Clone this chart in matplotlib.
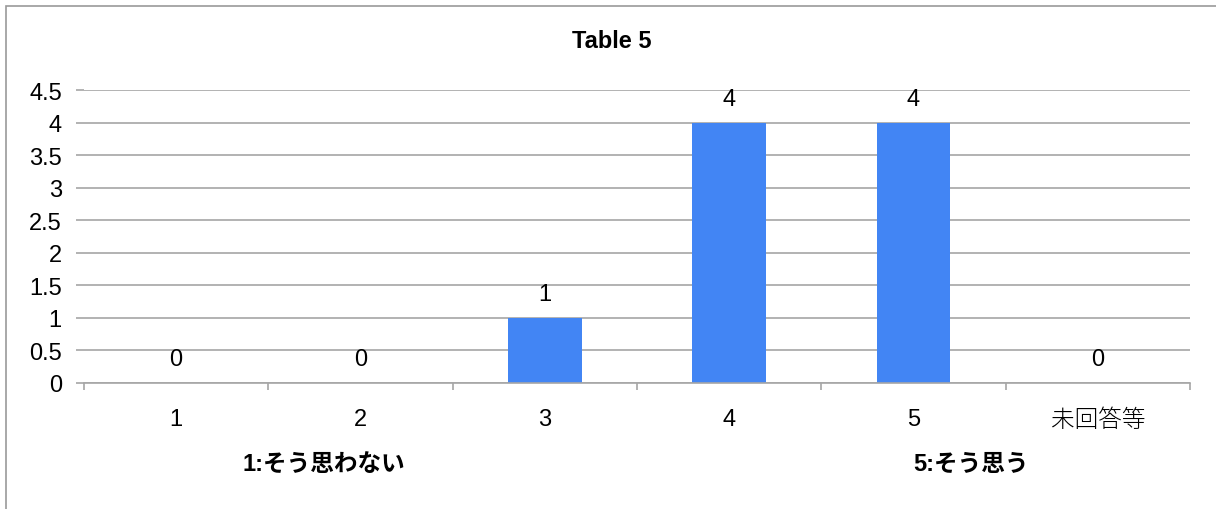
import matplotlib
matplotlib.use("Agg")
import matplotlib.pyplot as plt
from matplotlib.patches import Rectangle
from matplotlib.ticker import FixedLocator

plt.rcParams['font.family'] = ['Liberation Sans', 'Noto Sans CJK JP']

categories = ["1", "2", "3", "4", "5", "未回答等"]
counts = [0, 0, 1, 4, 4, 0]
y_ticks = [0, 0.5, 1, 1.5, 2, 2.5, 3, 3.5, 4, 4.5]
y_tick_labels = ["0", "0.5", "1", "1.5", "2", "2.5", "3", "3.5", "4", "4.5"]
title = "Table 5"
low_note = "1:そう思わない"
high_note = "5:そう思う"

bar_color = "#4285F4"
grid_color = "#a6a6a6"
text_size = 17

fig = plt.figure(figsize=(12.16, 5.10), dpi=100)
# outer chart border, open to the right and bottom
fig.patches.append(Rectangle((6 / 1216, -0.1), 1.2, 1 - 7 / 510 + 0.1,
                             transform=fig.transFigure, fill=False,
                             edgecolor="#9a9a9a", linewidth=1.2))

ax = fig.add_axes([84 / 1216, 1 - 384 / 510, (1190 - 84) / 1216, (384 - 91) / 510])
x = list(range(len(categories)))
ax.bar(x, counts, width=0.4, color=bar_color, zorder=3)

for xi, v in zip(x, counts):
    ax.annotate(str(v), (xi, v), xytext=(0, 13), textcoords="offset points",
                ha="center", va="baseline", fontsize=text_size, color="black", zorder=4)

ax.set_xlim(-0.5, len(categories) - 0.5)
ax.set_ylim(0, 4.5)
ax.set_yticks(y_ticks)
ax.set_yticklabels(y_tick_labels)
ax.set_xticks(x)
ax.set_xticklabels(categories)
ax.xaxis.set_minor_locator(FixedLocator([i - 0.5 for i in range(len(categories) + 1)]))

ax.grid(axis="y", color=grid_color, linewidth=1.2, zorder=1)
for s in ["top", "right", "left"]:
    ax.spines[s].set_visible(False)
ax.spines["bottom"].set_color(grid_color)
ax.spines["bottom"].set_linewidth(1.2)
ax.spines["bottom"].set_zorder(4)

ax.tick_params(axis="y", length=6, width=1.2, color=grid_color, pad=10, labelsize=text_size)
ax.tick_params(axis="x", which="major", length=0, pad=18, labelsize=text_size)
ax.tick_params(axis="x", which="minor", length=5, width=1.2, color=grid_color)
ax.get_xticklabels()[-1].set_fontweight("light")

fig.text(612 / 1216, 1 - 48 / 510, title, ha="center", va="baseline",
         fontsize=text_size, fontweight="bold")
fig.text(324 / 1216, 1 - 471 / 510, low_note, ha="center", va="baseline",
         fontsize=text_size, fontweight="bold")
fig.text(971 / 1216, 1 - 471 / 510, high_note, ha="center", va="baseline",
         fontsize=text_size, fontweight="bold")

fig.savefig("out.png", dpi=100)
